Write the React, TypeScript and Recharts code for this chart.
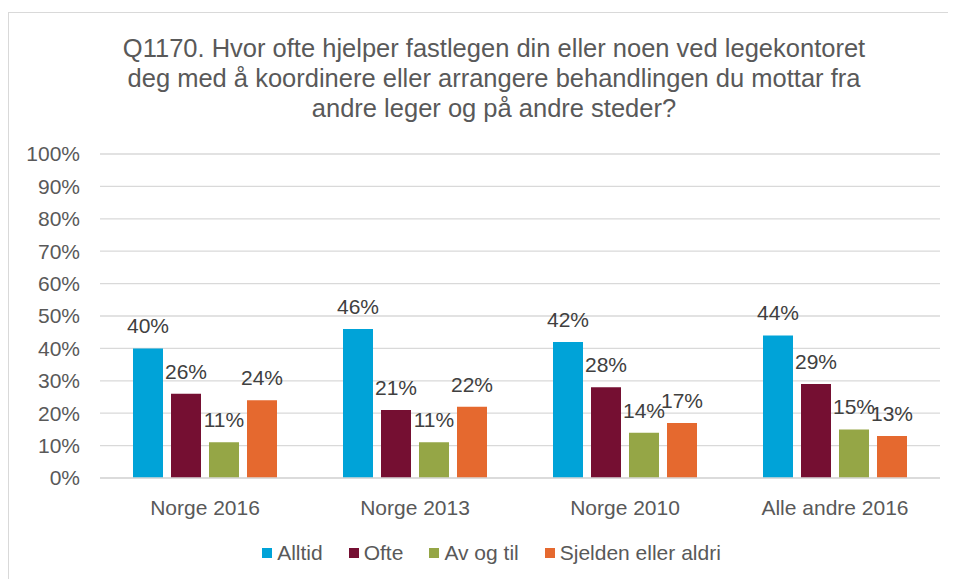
import { BarChart, Bar, XAxis, YAxis, CartesianGrid, Legend, LabelList } from 'recharts'

const categories = ['Norge 2016', 'Norge 2013', 'Norge 2010', 'Alle andre 2016']
const alltid = [40, 46, 42, 44]
const ofte = [26, 21, 28, 29]
const avOgTil = [11, 11, 14, 15]
const sjelden = [24, 22, 17, 13]
const yTicks = [0, 10, 20, 30, 40, 50, 60, 70, 80, 90, 100]

const titleLines = [
  'Q1170. Hvor ofte hjelper fastlegen din eller noen ved legekontoret',
  'deg med å koordinere eller arrangere behandlingen du mottar fra',
  'andre leger og på andre steder?',
]

const series = [
  { key: 'alltid', name: 'Alltid', color: '#00A3D8' },
  { key: 'ofte', name: 'Ofte', color: '#750F32' },
  { key: 'avOgTil', name: 'Av og til', color: '#95A646' },
  { key: 'sjelden', name: 'Sjelden eller aldri', color: '#E5692F' },
]

const data = categories.map((name, i) => ({
  name,
  alltid: alltid[i],
  ofte: ofte[i],
  avOgTil: avOgTil[i],
  sjelden: sjelden[i],
}))

const font = '"Liberation Sans", Arial, sans-serif'

function LegendContent() {
  return (
    <div
      style={{
        display: 'flex',
        justifyContent: 'center',
        alignItems: 'center',
        height: 40,
        paddingLeft: 60,
        fontFamily: font,
        fontSize: 21,
        color: '#595959',
      }}
    >
      {series.map(s => (
        <div key={s.key} style={{ display: 'flex', alignItems: 'center', marginRight: 26 }}>
          <span style={{ width: 10, height: 10, background: s.color, marginRight: 5 }} />
          <span>{s.name}</span>
        </div>
      ))}
    </div>
  )
}

export default function App() {
  return (
    <div
      style={{
        position: 'relative',
        marginTop: 4,
        width: 960,
        height: 580,
        border: '1px solid #d9d9d9',
        background: '#fff',
        fontFamily: font,
      }}
    >
      <div
        style={{
          position: 'absolute',
          top: 20,
          left: 14,
          width: 942,
          textAlign: 'center',
          fontSize: 25.5,
          lineHeight: '30px',
          color: '#595959',
        }}
      >
        {titleLines.map(l => (
          <div key={l}>{l}</div>
        ))}
      </div>
      <BarChart
        width={942}
        height={564}
        data={data}
        margin={{ top: 141, right: 11, bottom: 4, left: 0 }}
        barSize={30}
        barGap={8}
      >
        <CartesianGrid vertical={false} stroke="#d9d9d9" strokeWidth={1.3} />
        <XAxis
          dataKey="name"
          height={55}
          axisLine={{ stroke: '#d9d9d9', strokeWidth: 1.3 }}
          tickLine={false}
          tickSize={0}
          tickMargin={22}
          tick={{ fill: '#595959', fontSize: 21, fontFamily: font }}
        />
        <YAxis
          width={91}
          domain={[0, 100]}
          ticks={yTicks}
          interval={0}
          axisLine={false}
          tickLine={false}
          tickSize={0}
          tickMargin={20}
          tickFormatter={v => `${v}%`}
          tick={{ fill: '#595959', fontSize: 21, fontFamily: font }}
        />
        <Legend verticalAlign="bottom" height={40} content={<LegendContent />} />
        {series.map(s => (
          <Bar key={s.key} dataKey={s.key} name={s.name} fill={s.color} isAnimationActive={false}>
            <LabelList
              dataKey={s.key}
              position="top"
              offset={15}
              formatter={(v: any) => `${v}%`}
              style={{ fill: '#404040', fontSize: 21, fontFamily: font }}
            />
          </Bar>
        ))}
      </BarChart>
    </div>
  )
}
